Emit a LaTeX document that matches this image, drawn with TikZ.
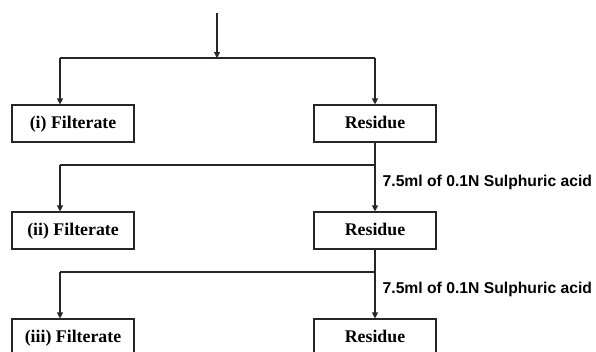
\documentclass[tikz,border=0pt]{standalone}
\usepackage{fontspec}
\setmainfont{Liberation Serif}
\newfontfamily\labelfont{Liberation Sans}
\usetikzlibrary{arrows.meta}
\begin{document}
\begin{tikzpicture}[x=1pt,y=-1pt,line width=1.3pt,
  box/.style={draw=black!85,line width=1.2pt,minimum width=122pt,minimum height=37pt,inner sep=0pt,
    text height=12.5pt,text depth=3.5pt,
    font=\fontsize{17.8}{20}\selectfont\bfseries},
  arr/.style={draw=black!85,-{Triangle[width=6pt,length=6pt]}},
  ln/.style={draw=black!85},
  acid/.style={anchor=west,inner sep=0pt,font=\labelfont\fontsize{15.7}{18}\selectfont\bfseries}]
\useasboundingbox (0,0) rectangle (596,351);
\clip (0,0) rectangle (596,351);
% boxes
\node[box] (f1) at (73,123.5) {(i) Filterate};
\node[box] (r1) at (375,123.5) {Residue};
\node[box] (f2) at (73,230.5) {(ii) Filterate};
\node[box] (r2) at (375,230.5) {Residue};
\node[box] (f3) at (73,337.5) {(iii) Filterate};
\node[box] (r3) at (375,337.5) {Residue};
% junctions
\coordinate (top) at (217,13);
\coordinate (j1) at (217,58);
\coordinate (j1l) at (60,58);
\coordinate (j1r) at (375,58);
\coordinate (j2l) at (60,165);
\coordinate (j2r) at (375,165);
\coordinate (j3l) at (60,272);
\coordinate (j3r) at (375,272);
% connectors
\draw[arr] (top) -- (j1);
\draw[ln] (j1l) -- (j1r);
\draw[arr] (j1l) -- (j1l |- f1.north);
\draw[arr] (j1r) -- (r1.north);
\draw[arr] (r1.south) -- (r2.north);
\draw[ln] (j2l) -- (j2r);
\draw[arr] (j2l) -- (j2l |- f2.north);
\draw[arr] (r2.south) -- (r3.north);
\draw[ln] (j3l) -- (j3r);
\draw[arr] (j3l) -- (j3l |- f3.north);
% labels
\node[acid] (a1) at (382,182) {7.5ml of 0.1N Sulphuric acid};
\node[acid] (a2) at (382,289) {7.5ml of 0.1N Sulphuric acid};
\end{tikzpicture}
\end{document}
